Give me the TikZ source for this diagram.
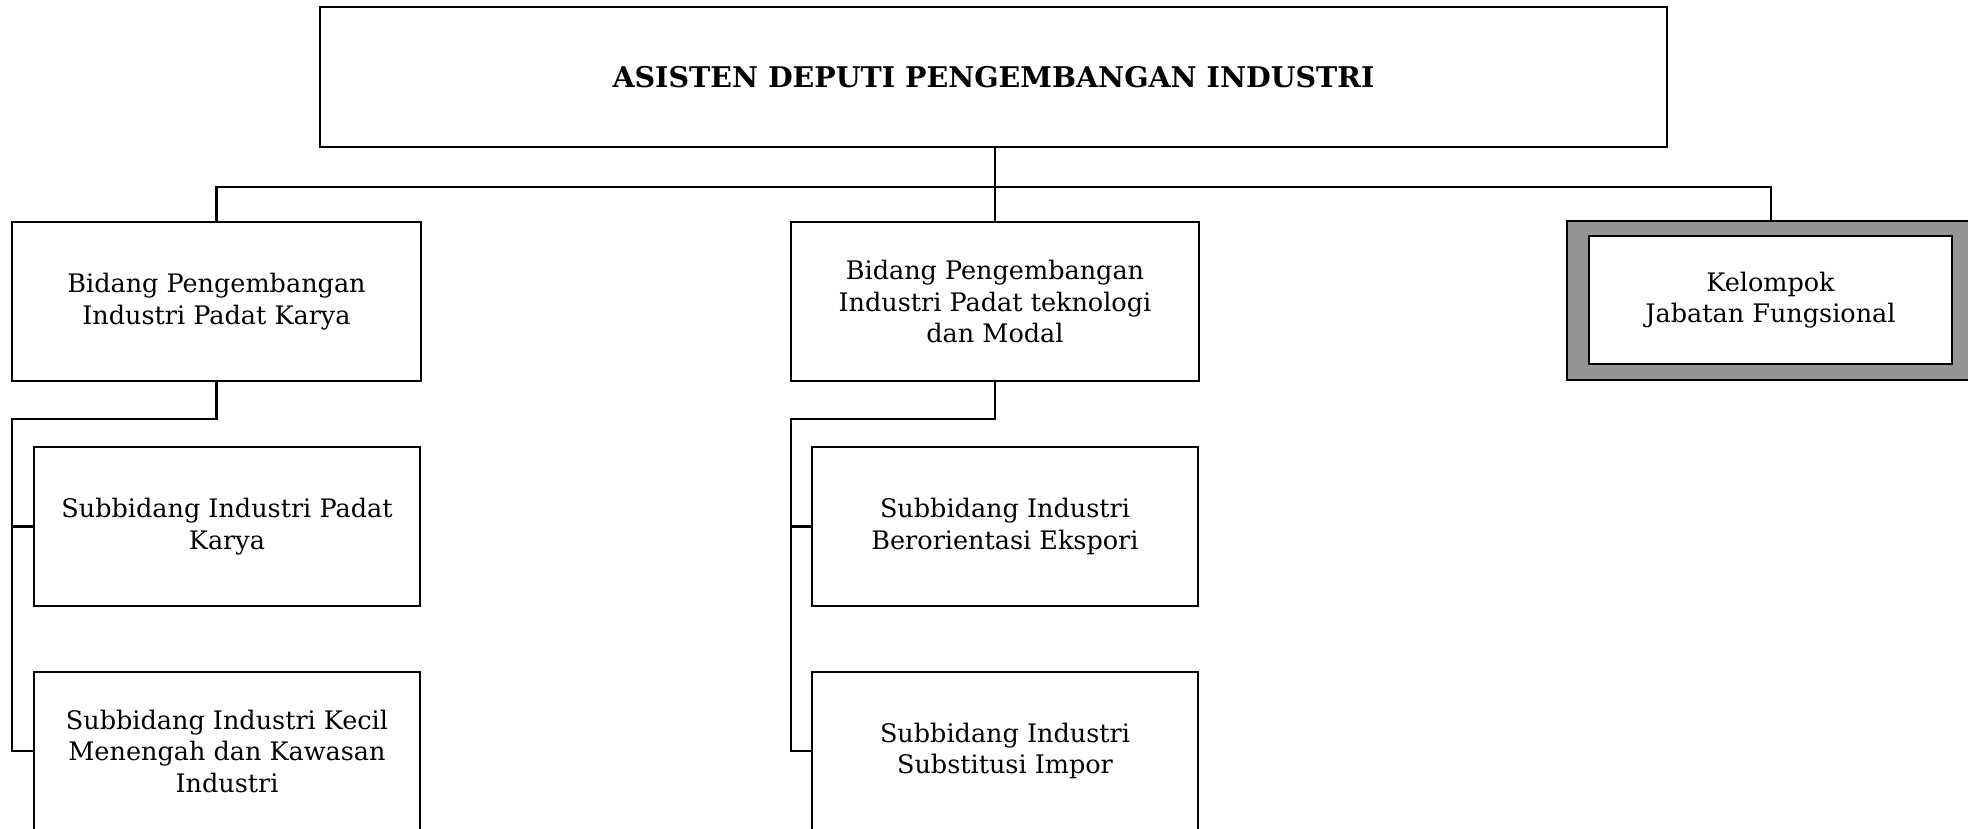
\documentclass[tikz,border=0pt]{standalone}
\usepackage{fontspec}
\setmainfont{DejaVu Serif}
\begin{document}
\begin{tikzpicture}[x=1pt,y=-1pt,
  box/.style={draw,line width=2pt,align=center,inner sep=0pt,fill=white,
    font=\fontsize{25.5}{31.5}\selectfont},
  hatchbox/.style={draw,line width=1.2pt,fill=black!42,inner sep=0pt},
  conn/.style={line width=2.4pt}]
\useasboundingbox (0,0) rectangle (1968,829);
\clip (0,0) rectangle (1968,829);

% top
\node[box,minimum width=1347pt,minimum height=140pt,font=\fontsize{28.5}{32}\selectfont\bfseries] (top) at (993.5,77) {ASISTEN DEPUTI PENGEMBANGAN INDUSTRI};

% level 2
\node[box,minimum width=409pt,minimum height=159pt] (bidA) at (216.5,301.5) {Bidang Pengembangan\\Industri Padat Karya};
\node[box,minimum width=408pt,minimum height=159pt] (bidB) at (995,301.5) {Bidang Pengembangan\\Industri Padat teknologi\\dan Modal};
\node[hatchbox,minimum width=408pt,minimum height=159pt] (kelo) at (1771,300.5) {};
\node[box,minimum width=363pt,minimum height=128pt] (kel) at (1770.5,300) {Kelompok\\Jabatan Fungsional};

% level 3
\node[box,minimum width=386pt,minimum height=159pt] (subA1) at (227,526.5) {Subbidang Industri Padat\\Karya};
\node[box,minimum width=386pt,minimum height=158pt] (subA2) at (227,751) {Subbidang Industri Kecil\\Menengah dan Kawasan\\Industri};
\node[box,minimum width=386pt,minimum height=159pt] (subB1) at (1005,526.5) {Subbidang Industri\\Berorientasi Ekspori};
\node[box,minimum width=386pt,minimum height=158pt] (subB2) at (1005,751) {Subbidang Industri\\Substitusi Impor};

% connectors level 1 -> 2
\coordinate (bus) at (995,187);
\draw[conn] (top.south -| bidB.north) -- (bidB.north);
\draw[conn] (bidA.north) |- (bus) -| (kelo.north);

% connectors to subunits
\coordinate (ca) at (12,419);
\draw[conn] (bidA.south) |- (ca) -- (ca |- subA2.west) -- (subA2.west);
\draw[conn] (ca |- subA1.west) -- (subA1.west);
\coordinate (cb) at (791,419);
\draw[conn] (bidB.south) |- (cb) -- (cb |- subB2.west) -- (subB2.west);
\draw[conn] (cb |- subB1.west) -- (subB1.west);
\end{tikzpicture}
\end{document}
